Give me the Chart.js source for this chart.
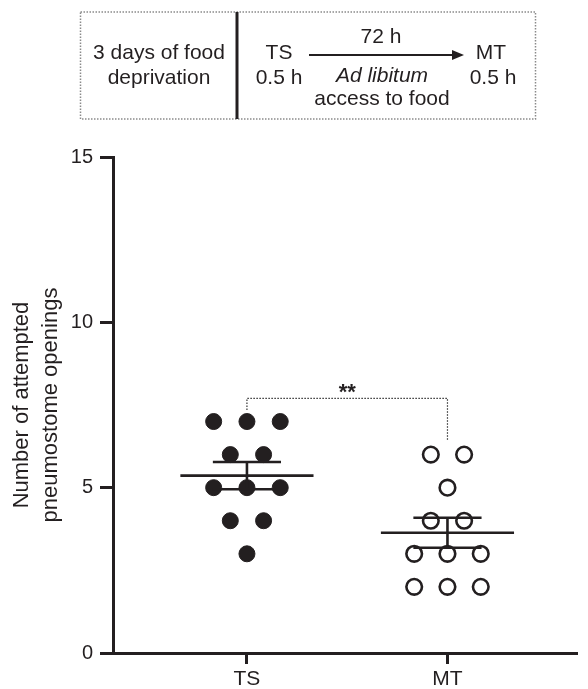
<!DOCTYPE html>
<html>
<head>
<meta charset="utf-8">
<script src="https://cdn.jsdelivr.net/npm/chart.js@4/dist/chart.umd.min.js"></script>
<style>
  body { margin: 0; background: #fff; }
  canvas { display: block; }
</style>
</head>
<body>
<canvas id="plot" width="588" height="689"></canvas>
<script>
// Data
const groups = ['TS', 'MT'];
const tsCounts = [7, 7, 7, 6, 6, 5, 5, 5, 4, 4, 3];
const mtCounts = [6, 6, 5, 4, 4, 3, 3, 3, 2, 2, 2];
const yTicks = [0, 5, 10, 15];
// significance bracket: [TS end, top, MT end]
const bracketLevels = [7.35, 7.7, 6.45];
const sigLabel = '**';

const ink = '#231f20';
const font = "'Liberation Sans', Arial, Helvetica, sans-serif";

// spread equal values side by side like a scatter dot plot
function swarm(values, center, step) {
    const byValue = {};
    values.forEach(v => { (byValue[v] = byValue[v] || []).push(v); });
    const pts = [];
    Object.keys(byValue).forEach(k => {
        const n = byValue[k].length;
        byValue[k].forEach((v, i) => {
            pts.push({ x: center + (i - (n - 1) / 2) * step, y: v });
        });
    });
    return pts;
}

function meanSem(values) {
    const n = values.length;
    const m = values.reduce((a, b) => a + b, 0) / n;
    const sd = Math.sqrt(values.reduce((a, v) => a + (v - m) * (v - m), 0) / (n - 1));
    return { mean: m, sem: sd / Math.sqrt(n) };
}

// mean line plus SEM whisker, gaps via null
function errorPath(values, center) {
    const s = meanSem(values);
    const hw = 0.332, cw = 0.17;
    const hi = s.mean + s.sem, lo = s.mean - s.sem;
    return [
        { x: center - hw, y: s.mean }, { x: center + hw, y: s.mean }, { x: center, y: null },
        { x: center - cw, y: hi }, { x: center + cw, y: hi }, { x: center, y: null },
        { x: center, y: hi }, { x: center, y: lo }, { x: center, y: null },
        { x: center - cw, y: lo }, { x: center + cw, y: lo }
    ];
}

// top protocol box, drawn straight on the canvas
const protocolBox = {
    id: 'protocolBox',
    afterDraw(chart) {
        const ctx = chart.ctx;
        ctx.save();
        ctx.strokeStyle = '#8a8a8a';
        ctx.lineWidth = 1.5;
        ctx.setLineDash([1.5, 1.5]);
        ctx.strokeRect(80.5, 12, 455, 107);
        ctx.setLineDash([]);
        ctx.strokeStyle = ink;
        ctx.lineWidth = 3;
        ctx.beginPath();
        ctx.moveTo(237, 12);
        ctx.lineTo(237, 119);
        ctx.stroke();
        // arrow
        ctx.lineWidth = 2;
        ctx.beginPath();
        ctx.moveTo(309, 55);
        ctx.lineTo(453, 55);
        ctx.stroke();
        ctx.fillStyle = ink;
        ctx.beginPath();
        ctx.moveTo(464, 55);
        ctx.lineTo(452, 50);
        ctx.lineTo(452, 60);
        ctx.closePath();
        ctx.fill();

        ctx.textAlign = 'center';
        ctx.textBaseline = 'middle';
        ctx.font = '21px ' + font;
        ctx.fillText('3 days of food', 159, 53);
        ctx.fillText('deprivation', 159, 78);
        ctx.fillText('TS', 279, 53);
        ctx.fillText('0.5 h', 279, 78);
        ctx.fillText('72 h', 381, 37);
        ctx.fillText('access to food', 382, 99);
        ctx.fillText('MT', 491, 53);
        ctx.fillText('0.5 h', 493, 78);
        ctx.font = 'italic 21px ' + font;
        ctx.fillText('Ad libitum', 382, 76);
        ctx.restore();
    }
};

const sigText = {
    id: 'sigText',
    afterDatasetsDraw(chart) {
        const { ctx, scales } = chart;
        ctx.save();
        ctx.fillStyle = ink;
        ctx.font = 'bold 22px ' + font;
        ctx.textAlign = 'center';
        ctx.textBaseline = 'alphabetic';
        ctx.fillText(sigLabel, scales.x.getPixelForValue(1.5), scales.y.getPixelForValue(bracketLevels[1]) + 1);
        ctx.restore();
    }
};

new Chart(document.getElementById('plot'), {
    type: 'scatter',
    data: {
        datasets: [
            {
                data: errorPath(tsCounts, 1),
                showLine: true, pointRadius: 0, borderColor: ink, borderWidth: 2.6,
                spanGaps: false, order: 0
            },
            {
                data: errorPath(mtCounts, 2),
                showLine: true, pointRadius: 0, borderColor: ink, borderWidth: 2.6,
                spanGaps: false, order: 0
            },
            {
                data: [
                    { x: 1, y: bracketLevels[0] }, { x: 1, y: bracketLevels[1] },
                    { x: 2, y: bracketLevels[1] }, { x: 2, y: bracketLevels[2] }
                ],
                showLine: true, pointRadius: 0, borderColor: '#333', borderWidth: 1.2,
                borderDash: [1.5, 1.5], order: 0
            },
            {
                data: swarm(tsCounts, 1, 0.166),
                pointRadius: 8, pointBackgroundColor: ink, pointBorderColor: ink,
                pointBorderWidth: 1, order: 1
            },
            {
                data: swarm(mtCounts, 2, 0.166),
                pointRadius: 7.8, pointBackgroundColor: '#fff', pointBorderColor: ink,
                pointBorderWidth: 2.6, order: 1
            }
        ]
    },
    options: {
        responsive: false,
        animation: false,
        layout: { padding: { top: 157, left: 0, right: 0, bottom: 0 } },
        plugins: { legend: { display: false }, tooltip: { enabled: false } },
        scales: {
            x: {
                type: 'linear',
                min: 0.332,
                max: 2.649,
                afterBuildTicks: s => { s.ticks = [{ value: 1 }, { value: 2 }]; },
                afterFit: s => { s.height = 36; },
                ticks: {
                    callback: v => groups[v - 1],
                    color: ink, font: { size: 21, family: font }, padding: 3
                },
                grid: { drawOnChartArea: false, tickLength: 11, tickWidth: 3, tickColor: ink },
                border: { display: true, width: 3, color: ink }
            },
            y: {
                min: 0,
                max: 15,
                afterBuildTicks: s => { s.ticks = yTicks.map(v => ({ value: v })); },
                afterFit: s => { s.width = 113; },
                ticks: { color: ink, font: { size: 20, family: font }, padding: 7 },
                grid: { drawOnChartArea: false, tickLength: 13, tickWidth: 3, tickColor: ink },
                border: { display: true, width: 3, color: ink },
                title: {
                    display: true,
                    text: ['Number of attempted', 'pneumostome openings'],
                    color: ink,
                    font: { size: 22, family: font, lineHeight: 1.3 },
                    padding: { top: 8, bottom: 0 }
                }
            }
        }
    },
    plugins: [protocolBox, sigText]
});
</script>
</body>
</html>
